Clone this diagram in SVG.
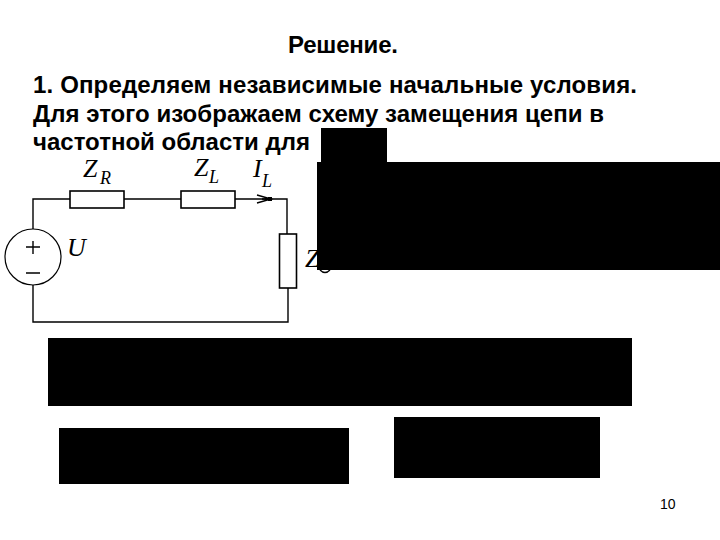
<svg xmlns="http://www.w3.org/2000/svg" width="720" height="540" viewBox="0 0 720 540">
<style>
.t{font-family:"Liberation Sans",Arial,sans-serif;font-weight:bold;font-size:24px;fill:#000}
.m{font-family:"Liberation Serif","Times New Roman",serif;font-style:italic;fill:#000;font-size:26px}
.s{font-family:"Liberation Serif","Times New Roman",serif;font-style:italic;fill:#000;font-size:18px}
.w{fill:none;stroke:#000;stroke-width:1.4}
.e{fill:#fff;stroke:#000;stroke-width:1.6}
.k{fill:#000}
</style>
<rect width="720" height="540" fill="#fff"/>
<text class="t" x="288" y="53" textLength="110">Решение.</text>
<text class="t" x="33" y="93" textLength="604">1. Определяем независимые начальные условия.</text>
<text class="t" x="33" y="122" textLength="571">Для этого изображаем схему замещения цепи в</text>
<text class="t" x="33" y="150" textLength="277">частотной области для</text>
<g id="connectors">
<path class="w" d="M33 229V199H70M124 199H181M235 199H287V234M288 288V322H33V285"/>
<path class="w" d="M257 195L271 199L257 203M262 199H271"/>
<rect class="k" x="268" y="197" width="4" height="4"/>
</g>
<g id="ZR"><rect class="e" x="70" y="191" width="54" height="17"/><text class="m" x="83" y="177">Z</text><text class="s" x="100" y="184">R</text></g>
<g id="ZL"><rect class="e" x="181" y="191" width="54" height="17"/><text class="m" x="194" y="176">Z</text><text class="s" x="209" y="183">L</text></g>
<g id="IL"><text class="m" x="253" y="177">I</text><text class="s" x="262" y="187">L</text></g>
<g id="ZC"><rect class="e" x="279.500" y="234" width="17" height="54"/><text class="m" x="305" y="267">Z</text><path class="w" d="M320 270q5 5 10 0"/></g>
<g id="U">
<circle cx="33" cy="257" r="28" fill="#fff" stroke="#000" stroke-width="1.2"/>
<path class="w" stroke-width="2" d="M26 247H40M33 241V254M26 273H40"/>
<text class="m" x="67" y="256">U</text>
</g>
<g id="masks">
<rect class="k" x="321" y="128" width="66" height="36"/>
<rect class="k" x="317" y="162" width="403" height="108"/>
<rect class="k" x="48" y="338" width="584" height="68"/>
<rect class="k" x="59" y="428" width="290" height="56"/>
<rect class="k" x="394" y="417" width="206" height="61"/>
</g>
<text x="660" y="509" font-family="Liberation Sans,Arial,sans-serif" font-size="14" fill="#000">10</text>
</svg>
